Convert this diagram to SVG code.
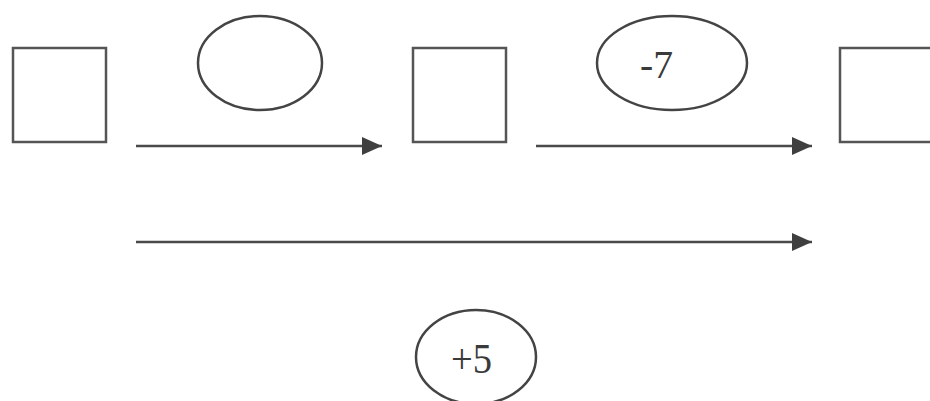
<svg xmlns="http://www.w3.org/2000/svg" width="930" height="401" viewBox="0 0 930 401">
  <defs>
    <marker id="arrow" viewBox="0 0 20 18" refX="20" refY="9" markerWidth="20" markerHeight="18" markerUnits="userSpaceOnUse" orient="auto">
      <path d="M0,0 L20,9 L0,18 Z" fill="#3f3f3f"/>
    </marker>
    <style>
      .box { fill: #ffffff; stroke: #555555; stroke-width: 2.5; }
      .oval { fill: #ffffff; stroke: #444444; stroke-width: 2.5; }
      .edge { stroke: #4a4a4a; stroke-width: 2.5; fill: none; marker-end: url(#arrow); }
    </style>
  </defs>
  <rect width="930" height="401" fill="#ffffff"/>

  <g id="box-start"><rect class="box" x="13" y="48" width="93" height="94"/></g>
  <g id="box-middle"><rect class="box" x="413" y="48" width="93" height="94"/></g>
  <g id="box-end"><rect class="box" x="840" y="48" width="100" height="94"/></g>

  <g id="op-first"><ellipse class="oval" cx="260" cy="63" rx="62" ry="47"/></g>
  <g id="op-minus7">
    <ellipse class="oval" cx="672" cy="63" rx="75" ry="47"/>
    <text x="640" y="78" font-family="Liberation Serif, serif" font-size="40" fill="#3a3a3a" textLength="33" lengthAdjust="spacingAndGlyphs">-7</text>
  </g>
  <g id="op-plus5">
    <ellipse class="oval" cx="476" cy="357" rx="60" ry="47"/>
    <text x="451" y="373" font-family="Liberation Serif, serif" font-size="42" fill="#3a3a3a" textLength="41" lengthAdjust="spacingAndGlyphs">+5</text>
  </g>

  <g id="connectors">
    <line class="edge" x1="136" y1="146" x2="382" y2="146"/>
    <line class="edge" x1="536" y1="146" x2="812" y2="146"/>
    <line class="edge" x1="136" y1="242" x2="812" y2="242"/>
  </g>
</svg>
